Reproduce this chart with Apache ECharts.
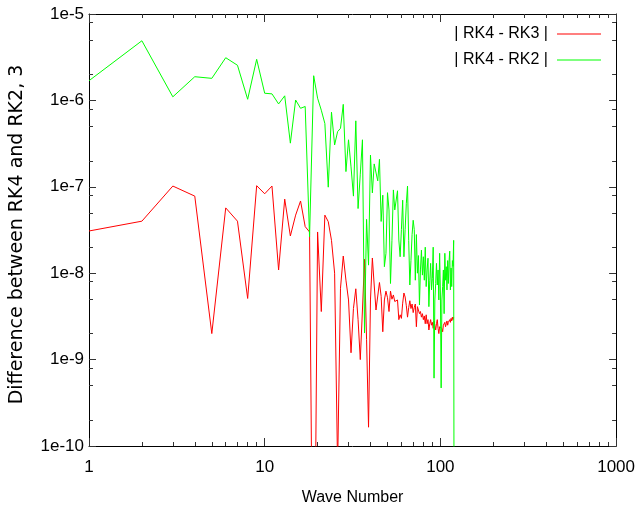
<!DOCTYPE html>
<html><head><meta charset="utf-8">
<script src="https://cdn.jsdelivr.net/npm/echarts@6/dist/echarts.min.js"></script>
<style>html,body{margin:0;padding:0;background:#fff}#c{width:638px;height:515px}</style>
</head><body><div id="c"></div>
<script>
const waveNumbers = [1,2,3,4,5,6,7,8,9,10,11,12,13,14,15,16,17,18,19,20,21,22,23,24,25,26,27,28,29,30,31,32,33,34,35,36,37,38,39,40,41,42,43,44,45,46,47,48,49,50,51,52,53,54,55,56,57,58,59,60,61,62,63,64,65,66,67,68,69,70,71,72,73,74,75,76,77,78,79,80,81,82,83,84,85,86,87,88,89,90,91,92,93,94,95,96,97,98,99,100,101,102,103,104,105,106,107,108,109,110,111,112,113,114,115,116,117,118,119,120];
const rk3Diff = [3.08e-8,4.0e-8,1.02e-7,7.8e-8,2.0e-9,5.7e-8,4.0e-8,5.1e-9,1.03e-7,8.3e-8,1.02e-7,1.09e-8,7.2e-8,2.7e-8,4.7e-8,6.85e-8,3.46e-8,3.0e-8,1e-13,3.0e-8,3.6e-9,4.7e-8,3.95e-8,2.4e-8,1.0e-8,5.6e-11,6.7e-9,1.58e-8,8.3e-9,4.9e-9,1.2e-9,3.9e-9,6.6e-9,2.9e-9,1.0e-9,3.75e-9,1.45e-8,1.7e-9,1.65e-10,4.9e-9,1.5e-8,7.3e-9,3.75e-9,3.9e-9,7.8e-9,5.4e-9,2.1e-9,4.9e-9,6.2e-9,5.2e-9,3.6e-9,6.2e-9,5.0e-9,5.6e-9,4.7e-9,4.5e-9,4.9e-9,2.9e-9,3.3e-9,3.0e-9,4.5e-9,5.9e-9,5.3e-9,4.2e-9,3.1e-9,4.0e-9,4.8e-9,3.9e-9,4.4e-9,3.5e-9,4.0e-9,4.4e-9,2.4e-9,4.1e-9,3.9e-9,3.4e-9,3.6e-9,3.1e-9,3.4e-9,2.9e-9,3.2e-9,2.6e-9,3.3e-9,2.6e-9,2.9e-9,2.2e-9,2.6e-9,2.9e-9,2.5e-9,2.7e-9,2.3e-9,2.8e-9,2.5e-9,2.2e-9,2.6e-9,2.9e-9,2.3e-9,2.0e-9,2.4e-9,2.3e-9,2.5e-9,2.3e-9,2.1e-9,2.5e-9,2.4e-9,2.7e-9,2.4e-9,2.6e-9,2.8e-9,2.5e-9,2.7e-9,2.6e-9,2.9e-9,2.7e-9,3.0e-9,2.8e-9,3.1e-9,2.9e-9,3.1e-9];
const rk2Diff = [1.69e-6,4.9e-6,1.1e-6,1.88e-6,1.8e-6,3.12e-6,2.55e-6,1.03e-6,2.99e-6,1.21e-6,1.19e-6,9.1e-7,1.13e-6,3.2e-7,1.01e-6,8.1e-7,8.5e-7,2.64e-8,1.93e-6,1.06e-6,7.7e-7,5.4e-7,9.9e-8,7.3e-7,3.05e-7,4.35e-7,4.75e-7,9.0e-7,1.5e-7,3.5e-7,1.7e-7,7.8e-8,5.8e-7,5.6e-8,1.4e-7,3.5e-7,2.03e-9,4.2e-8,1.24e-8,2.33e-7,8.5e-8,1.84e-7,1.88e-7,1.17e-7,2.08e-7,3.97e-8,8.0e-8,1.19e-8,1.7e-8,8.55e-8,5.4e-8,7.6e-9,2.4e-8,9.2e-8,5.4e-8,5.2e-8,9.0e-8,2.42e-8,1.55e-8,3.2e-8,7.0e-8,1.55e-8,3.2e-8,6.45e-8,1.02e-7,2.4e-8,7.3e-9,1.4e-8,2.8e-8,4.1e-8,3.2e-8,8.3e-9,2.8e-8,1.0e-8,1.6e-8,4.3e-9,1.09e-8,1.85e-8,9.5e-9,1.55e-8,8.3e-9,2.0e-8,7.0e-9,1.09e-8,1.49e-8,4.1e-9,8.3e-9,1.3e-8,6.4e-9,8.7e-9,2.0e-8,6.1e-10,4.9e-9,7.6e-9,1.3e-8,7.3e-9,1.09e-8,4.9e-9,1.7e-8,5.9e-9,4.7e-10,4.9e-9,7.0e-9,1.09e-8,3.4e-9,1.7e-8,8.3e-9,1.19e-8,6.4e-9,1.4e-8,7.6e-9,1.35e-8,1.8e-8,6.4e-9,1.15e-8,7.0e-9,1.4e-8,1.2e-8,2.4e-8,1e-13];
const seriesNames = ['| RK4 - RK3 |', '| RK4 - RK2 |'];
const xMajorTicks = [1, 10, 100, 1000];
const xMinorTicks = [2,3,4,5,6,7,8,9,20,30,40,50,60,70,80,90,200,300,400,500,600,700,800,900];
const yMajorTicks = [1e-10, 1e-9, 1e-8, 1e-7, 1e-6, 1e-5];
const yMinorTicks = [2e-10,5e-10,8e-10,2e-9,5e-9,8e-9,2e-8,5e-8,8e-8,2e-7,5e-7,8e-7,2e-6,5e-6,8e-6];
const xTitle = 'Wave Number';
const yTitle = 'Difference between RK4 and RK2, 3';

const FONT = '"Liberation Sans", Arial, sans-serif';
const pairs = vals => vals.map((v, i) => [waveNumbers[i], v]);

function xAx(pos, ticks, len, line, labels) {
  return {
    type: 'log', logBase: 10, min: 1, max: 1000, position: pos, gridIndex: 0,
    axisLine: { show: line, onZero: false, lineStyle: { color: '#000', width: 1 } },
    axisTick: { show: true, inside: true, length: len, customValues: ticks, lineStyle: { color: '#333', width: 1 } },
    axisLabel: labels ? { show: true, customValues: xMajorTicks, margin: 13, color: '#000', fontFamily: FONT, fontSize: 17, formatter: v => String(v) } : { show: false },
    splitLine: { show: false }, minorTick: { show: false },
    name: labels ? xTitle : '', nameLocation: 'middle', nameGap: 44,
    nameTextStyle: { color: '#000', fontFamily: FONT, fontSize: 16 }
  };
}
function yAx(pos, ticks, len, line, labels) {
  return {
    type: 'log', logBase: 10, min: 1e-10, max: 1e-5, position: pos, gridIndex: 0,
    axisLine: { show: line, onZero: false, lineStyle: { color: '#000', width: 1 } },
    axisTick: { show: true, inside: true, length: len, customValues: ticks, lineStyle: { color: '#333', width: 1 } },
    axisLabel: labels ? { show: true, customValues: yMajorTicks, margin: 5, color: '#000', fontFamily: FONT, fontSize: 17,
      formatter: v => '1e' + Math.round(Math.log10(v)) } : { show: false },
    splitLine: { show: false }, minorTick: { show: false }
  };
}

const chart = echarts.init(document.getElementById('c'), null, { renderer: 'canvas' });
chart.setOption({
  animation: false,
  backgroundColor: '#fff',
  grid: { left: 89, right: 18, top: 14, bottom: 69, containLabel: false },
  legend: {
    data: seriesNames, orient: 'vertical', align: 'right', right: 37, top: 26, padding: 0,
    itemWidth: 44, itemHeight: 1, itemGap: 10, icon: 'rect',
    textStyle: { color: '#000', fontFamily: FONT, fontSize: 16, padding: [0, 4, 0, 0] }
  },
  graphic: [{
    type: 'text', x: 17, y: 234.5, rotation: Math.PI / 2,
    style: { text: yTitle, fill: '#000', font: '19px "DejaVu Sans", sans-serif', align: 'center', verticalAlign: 'middle' }
  }],
  xAxis: [
    xAx('bottom', xMajorTicks, 8, true, true),
    xAx('bottom', xMinorTicks, 4, false, false),
    xAx('top', xMajorTicks, 8, true, false),
    xAx('top', xMinorTicks, 4, false, false)
  ],
  yAxis: [
    yAx('left', yMajorTicks, 7, true, true),
    yAx('left', yMinorTicks, 4, false, false),
    yAx('right', yMajorTicks, 7, true, false),
    yAx('right', yMinorTicks, 4, false, false)
  ],
  series: [
    { name: seriesNames[0], type: 'line', xAxisIndex: 0, yAxisIndex: 0, data: pairs(rk3Diff), showSymbol: false, symbol: 'none',
      color: '#ff0000', lineStyle: { color: '#ff0000', width: 1 }, clip: true },
    { name: seriesNames[1], type: 'line', xAxisIndex: 0, yAxisIndex: 0, data: pairs(rk2Diff), showSymbol: false, symbol: 'none',
      color: '#00ff00', lineStyle: { color: '#00ff00', width: 1 }, clip: true }
  ]
});
</script></body></html>
